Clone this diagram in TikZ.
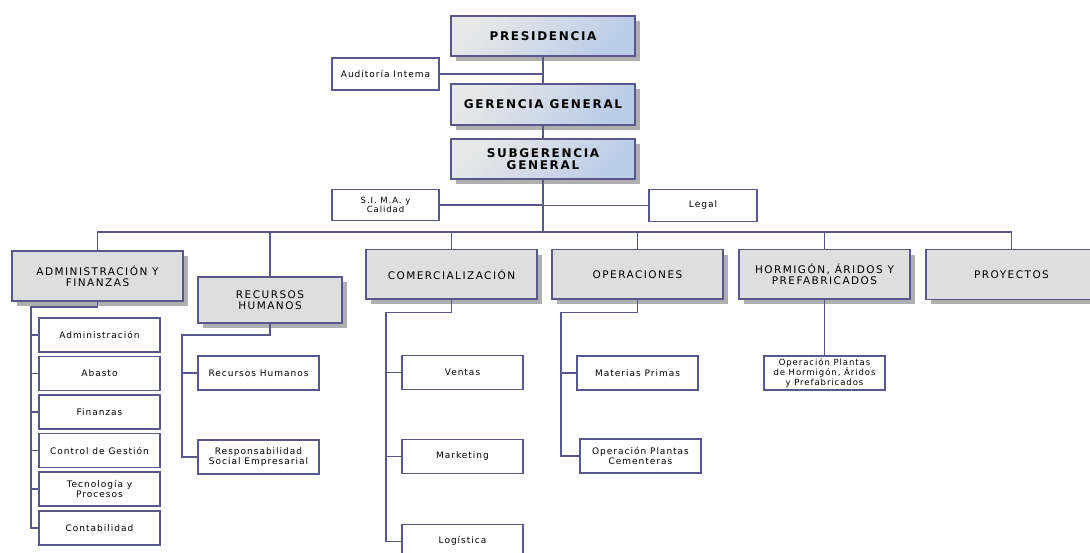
\documentclass[tikz,border=0pt]{standalone}
\usepackage{fontspec}
\setmainfont{DejaVu Sans}
\newfontfamily\topf{DejaVu Sans}[LetterSpace=14]
\newfontfamily\midf{DejaVu Sans}[LetterSpace=14]
\newfontfamily\smf{DejaVu Sans}[LetterSpace=11]
\usetikzlibrary{shadows}
\definecolor{lc}{RGB}{88,88,140}
\definecolor{ltwo}{RGB}{222,222,222}
\definecolor{gtop}{RGB}{232,232,232}
\definecolor{gbot}{RGB}{186,204,232}
\definecolor{shd}{RGB}{175,175,175}
\tikzset{
  conn/.style={draw=lc, line width=1.5pt},
  shad/.style={drop shadow={shadow xshift=5pt, shadow yshift=-5pt, fill=shd, opacity=1}},
  topbox/.style={shad, draw=lc, line width=1.4pt, top color=gtop, bottom color=gbot, shading angle=45,
    minimum width=184pt, align=center, inner sep=0pt,
    font=\topf\bfseries\fontsize{12}{12.5}\selectfont},
  midbox/.style={shad, draw=lc, fill=ltwo, line width=1.4pt, minimum width=171pt, minimum height=49.5pt,
    align=center, inner sep=0pt, font=\midf\fontsize{10.5}{11}\selectfont},
  smbox/.style={draw=lc, fill=white, line width=1.3pt, minimum width=121pt, minimum height=34pt,
    align=center, inner sep=0pt, font=\smf\fontsize{9}{10.3}\selectfont},
}
\begin{document}
\begin{tikzpicture}[x=1pt,y=-1pt]
\useasboundingbox (0,0) rectangle (1090,552);
\fill[white] (0,0) rectangle (1090,552);
% top level
\node[topbox, minimum height=40pt] (pres) at (543,36) {PRESIDENCIA};
\node[topbox, minimum height=41pt] (ger) at (543,104.5) {GERENCIA GENERAL};
\node[topbox, minimum height=40pt] (sub) at (543,159) {SUBGERENCIA\\GENERAL};
\node[smbox, minimum width=107pt, minimum height=32pt] (aud) at (385.5,74) {Auditoría Intema};
\node[smbox, minimum width=107pt, minimum height=31pt, font=\smf\fontsize{8.5}{9.3}\selectfont] (sima) at (385.5,205) {S.I. M.A. y\\Calidad};
\node[smbox, minimum width=108pt, minimum height=32pt] (legal) at (703,205.5) {Legal};
% second level
\coordinate (busy) at (0,232);
\node[midbox, minimum height=50pt] (adm) at (97.5,276) {ADMINISTRACIÓN Y\\FINANZAS};
\node[midbox, minimum width=144pt, minimum height=46pt] (rh) at (270,300) {RECURSOS\\HUMANOS};
\node[midbox] (com) at (451.5,274.25) {COMERCIALIZACIÓN};
\node[midbox] (ope) at (637.5,274.25) {OPERACIONES};
\node[midbox] (hor) at (824.5,274.25) {HORMIGÓN, ÁRIDOS Y\\PREFABRICADOS};
\node[midbox] (pro) at (1011.5,274.5) {PROYECTOS};
% admin children
\node[smbox] (a1) at (99.5,335) {Administración};
\node[smbox] (a2) at (99.5,373.5) {Abasto};
\node[smbox] (a3) at (99.5,412) {Finanzas};
\node[smbox] (a4) at (99.5,450.5) {Control de Gestión};
\node[smbox] (a5) at (99.5,489) {Tecnología y\\Procesos};
\node[smbox] (a6) at (99.5,528) {Contabilidad};
% rh children
\node[smbox] (r1) at (258.5,373) {Recursos Humanos};
\node[smbox] (r2) at (258.5,457) {Responsabilidad\\Social Empresarial};
% comercial children
\node[smbox] (c1) at (462.5,372.5) {Ventas};
\node[smbox] (c2) at (462.5,456.5) {Marketing};
\node[smbox] (c3) at (462.5,541.3) {Logística};
% operaciones children
\node[smbox] (o1) at (637.5,373) {Materias Primas};
\node[smbox] (o2) at (640.5,456) {Operación Plantas\\Cementeras};
% hormigon child
\node[smbox, font=\smf\fontsize{8.5}{9.7}\selectfont] (h1) at (824.5,373) {Operación Plantas\\de Hormigón, Áridos\\y Prefabricados};
% connectors top
\draw[conn] (pres.south) -- (ger.north);
\draw[conn] (ger.south) -- (sub.north);
\draw[conn] (aud.east) -- (aud.east -| pres.south);
\draw[conn] (sima.east) -- (sima.east -| sub.south);
\draw[conn] (legal.west) -- (legal.west -| sub.south);
\draw[conn] (sub.south) -- (sub.south |- busy);
\draw[conn] (adm.north) -- (adm.north |- busy) -| (pro.north);
\draw[conn] (rh.north) -- (rh.north |- busy);
\draw[conn] (com.north) -- (com.north |- busy);
\draw[conn] (ope.north) -- (ope.north |- busy);
\draw[conn] (hor.north) -- (hor.north |- busy);
% admin tree
\coordinate (as) at (31,307);
\draw[conn] (adm.south) -- (adm.south |- as) -- (as) |- (a6.west);
\foreach \n in {a1,a2,a3,a4,a5} \draw[conn] (\n.west) -- (\n.west -| as);
% rh tree
\coordinate (rs) at (182,335);
\draw[conn] (rh.south) -- (rh.south |- rs) -- (rs) |- (r2.west);
\draw[conn] (r1.west) -- (r1.west -| rs);
% comercial tree
\coordinate (cs) at (386,312.5);
\draw[conn] (com.south) -- (com.south |- cs) -- (cs) |- (c3.west);
\foreach \n in {c1,c2} \draw[conn] (\n.west) -- (\n.west -| cs);
% operaciones tree
\coordinate (os) at (561,312.5);
\draw[conn] (ope.south) -- (ope.south |- os) -- (os) |- (o2.west);
\draw[conn] (o1.west) -- (o1.west -| os);
% hormigon
\draw[conn] (hor.south) -- (h1.north);
\end{tikzpicture}
\end{document}
